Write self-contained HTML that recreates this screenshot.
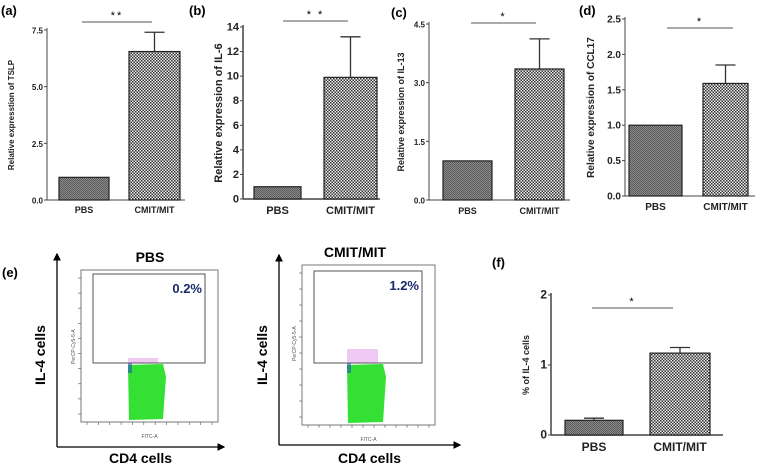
<!DOCTYPE html>
<html><head><meta charset="utf-8"><style>
body{margin:0;background:#fff}
svg{display:block;font-family:"Liberation Sans",sans-serif}
</style></head><body>
<svg id="fig" width="760" height="467" viewBox="0 0 760 467">
<defs>
<pattern id="fine" width="2" height="2" patternUnits="userSpaceOnUse"><rect width="2" height="2" fill="#8a8a8a"/><rect width="1" height="1" fill="#5a5a5a"/><rect x="1" y="1" width="1" height="1" fill="#5a5a5a"/></pattern>
<pattern id="coarse" width="3" height="3" patternUnits="userSpaceOnUse"><rect width="3" height="3" fill="#eee"/><rect width="1.5" height="1.5" fill="#333"/><rect x="1.5" y="1.5" width="1.5" height="1.5" fill="#333"/></pattern>
<marker id="arr" markerWidth="6" markerHeight="6" refX="5" refY="3" orient="auto"><path d="M0,0 L6,3 L0,6 z" fill="#000"/></marker>
</defs>
<g id="panels"></g>
</svg>
<script>
const categories=["PBS","CMIT/MIT"];
const tslpValues=[1.0,6.55];const tslpErr=[0,7.4];const tslpTicks=["0.0","2.5","5.0","7.5"];
const il6Values=[1.0,9.9];const il6Err=[0,13.2];const il6Ticks=["0","2","4","6","8","10","12","14"];
const il13Values=[1.0,3.35];const il13Err=[0,4.12];const il13Ticks=["0.0","1.5","3.0","4.5"];
const ccl17Values=[1.0,1.59];const ccl17Err=[0,1.85];const ccl17Ticks=["0.0","0.5","1.0","1.5","2.0","2.5"];
const il4Values=[0.21,1.17];const il4Err=[0.24,1.25];const il4Ticks=["0","1","2"];
const flowPercents=["0.2%","1.2%"];

const NS="http://www.w3.org/2000/svg";
const root=document.getElementById('panels');
function mk(tag,attrs,parent,txt){const e=document.createElementNS(NS,tag);for(const k in attrs)e.setAttribute(k,attrs[k]);if(txt!==undefined)e.textContent=txt;(parent||root).appendChild(e);return e;}

function panel(cfg){
  const g=mk('g',{});
  
  
  const ticks=cfg.ticks, tmin=parseFloat(ticks[0]), tmax=parseFloat(ticks[ticks.length-1]);
  const y=v=>cfg.y0-(v-tmin)/(tmax-tmin)*(cfg.y0-cfg.yTop);
  const lbl=mk('text',{x:cfg.lx,y:cfg.ly,'font-size':13,'font-weight':'bold'},g,cfg.letter);
  
  const ax=mk('line',{x1:cfg.ax,y1:cfg.yTop-2,x2:cfg.ax,y2:cfg.y0,stroke:'#444','stroke-width':cfg.bold?1.5:1},g);
  
  const xa=mk('line',{x1:cfg.ax,y1:cfg.y0,x2:cfg.xEnd,y2:cfg.y0,stroke:'#444','stroke-width':cfg.bold?1.5:1},g);
  
  ticks.forEach(t=>{const ty=y(parseFloat(t));
    mk('line',{x1:cfg.ax-3,y1:ty,x2:cfg.ax,y2:ty,stroke:'#444'},g);
    const tl=mk('text',{x:cfg.ax-4,y:ty+3.5,'font-size':cfg.tfs,'font-weight':'bold','text-anchor':'end',fill:'#222'},g,t);
    
  });
  const yt=mk('text',{x:cfg.ylx,y:(cfg.y0+cfg.yTop)/2,'font-size':cfg.yfs,'font-weight':'bold','text-anchor':'middle',fill:'#222',transform:`rotate(-90 ${cfg.ylx} ${(cfg.y0+cfg.yTop)/2})`},g,cfg.ylabel);
  
  cfg.values.forEach((v,i)=>{
    const [x1,x2]=cfg.bars[i];const cx=(x1+x2)/2;
    if(cfg.err[i]>v){
      const e=mk('path',{d:`M${cx},${y(v)} V${y(cfg.err[i])} M${cx-10},${y(cfg.err[i])} H${cx+10}`,stroke:'#333','stroke-width':1.3,fill:'none'},g);
      
    }
    const b=mk('rect',{x:x1,y:y(v),width:x2-x1,height:cfg.y0-y(v),fill:i?'url(#coarse)':'url(#fine)',stroke:'#222','stroke-width':1.2},g);
    
    const c=mk('text',{x:cx,y:cfg.y0+cfg.cdy,'font-size':cfg.cfs,'font-weight':'bold','text-anchor':'middle',fill:'#222'},g,categories[i]);
    
  });
  const s=mk('line',{x1:cfg.sig[0],y1:cfg.sig[2],x2:cfg.sig[1],y2:cfg.sig[2],stroke:'#555'},g);
  
  const st=mk('text',{x:(cfg.sig[0]+cfg.sig[1])/2,y:cfg.sig[2]-3,'font-size':11,'text-anchor':'middle','letter-spacing':'2'},g,cfg.stars);
  
}

panel({name:'panel-a-tslp',letter:'(a)',lx:1,ly:15,ax:47,y0:200,yTop:30,xEnd:185,ticks:tslpTicks,values:tslpValues,err:tslpErr,bars:[[59,109],[129,180]],tfs:8,yfs:8,ylx:14,ylabel:'Relative expresstion of TSLP',cdy:13,cfs:9,sig:[82,152,22],stars:'**'});
panel({name:'panel-b-il6',letter:'(b)',lx:189,ly:15,ax:243,y0:199,yTop:27,xEnd:380,ticks:il6Ticks,values:il6Values,err:il6Err,bars:[[254,301],[324,377]],tfs:11,yfs:11,ylx:222,ylabel:'Relative expression of IL-6',cdy:15,cfs:11,sig:[283,348,21],stars:'* *',bold:true});
panel({name:'panel-c-il13',letter:'(c)',lx:391,ly:17,ax:429,y0:200,yTop:24,xEnd:570,ticks:il13Ticks,values:il13Values,err:il13Err,bars:[[443,492],[515,564]],tfs:8,yfs:9,ylx:404,ylabel:'Relative expression of  IL-13',cdy:14,cfs:9,sig:[471,536,23],stars:'*'});
panel({name:'panel-d-ccl17',letter:'(d)',lx:579,ly:15,ax:625,y0:196,yTop:19,xEnd:755,ticks:ccl17Ticks,values:ccl17Values,err:ccl17Err,bars:[[629,682],[703,748]],tfs:10,yfs:10,ylx:594,ylabel:'Relative expression of CCL17',cdy:14,cfs:10,sig:[667,733,28],stars:'*'});
panel({name:'panel-f-il4-percent',letter:'(f)',lx:492,ly:267,ax:551,y0:435,yTop:295,xEnd:723,ticks:il4Ticks,values:il4Values,err:il4Err,bars:[[565,623],[650,710]],tfs:12,yfs:9,ylx:529,ylabel:'% of IL-4 cells',cdy:16,cfs:12,sig:[592,673,308],stars:'*',bold:true});

mk('text',{x:2,y:277,'font-size':13,'font-weight':'bold'},root,'(e)');
function flow(o,idx){
  const g=mk('g',{});
  
  
  mk('line',{x1:o.ax,y1:o.by,x2:o.ax,y2:o.top,stroke:'#000','stroke-width':1.3,'marker-end':'url(#arr)'},g);
  mk('line',{x1:o.ax,y1:o.by,x2:o.right,y2:o.by,stroke:'#000','stroke-width':1.3,'marker-end':'url(#arr)'},g);
  mk('rect',{x:o.bx,y:o.byy,width:o.bw,height:o.bh,fill:'none',stroke:'#777'},g);
  const gb=o.gy+o.gh;
  mk('path',{d:`M${o.cx1},${gb+2} L${o.cx2-3},${gb+1} L${o.cx2},${gb+14} L${o.cx2-3},${o.byy+o.bh-3} L${o.cx1+1},${o.byy+o.bh-2} Z`,fill:'#33e033'},g);
  mk('rect',{x:o.cx1,y:gb-o.pink,width:o.cx2-o.cx1-8,height:o.pink,fill:'#dd88e8',opacity:0.45},g);
  mk('rect',{x:o.cx1,y:gb,width:4,height:10,fill:'#2255bb',opacity:0.6},g);
  mk('rect',{x:o.gx,y:o.gy,width:o.gw,height:o.gh,fill:'none',stroke:'#555','stroke-width':1},g);
  const t=mk('text',{x:o.tx,y:o.ty,'font-size':14,'font-weight':'bold','text-anchor':'middle'},g,categories[idx]);
  
  const p=mk('text',{x:o.gx+o.gw-3,y:o.gy+19,'font-size':13,'font-weight':'bold','text-anchor':'end',fill:'#1a2a6a'},g,flowPercents[idx]);
  
  const yl=mk('text',{x:o.ax-12,y:355,'font-size':14,'font-weight':'bold','text-anchor':'middle',transform:`rotate(-90 ${o.ax-12} 355)`},g,'IL-4 cells');
  
  const xl=mk('text',{x:(o.ax+o.right)/2,y:463,'font-size':14,'font-weight':'bold','text-anchor':'middle'},g,'CD4 cells');
  
  mk('text',{x:(o.bx+o.bx+o.bw)/2,y:o.byy+o.bh+16,'font-size':5,'text-anchor':'middle',fill:'#555'},g,'FITC-A');
  mk('text',{x:o.bx-6,y:o.gy+90,'font-size':5,fill:'#555',transform:`rotate(-90 ${o.bx-6} ${o.gy+90})`},g,'PerCP-Cy5-5-A');
  for(let k=0;k<12;k++){mk('line',{x1:o.bx+6+k*((o.bw-12)/11),y1:o.byy+o.bh,x2:o.bx+6+k*((o.bw-12)/11),y2:o.byy+o.bh+3,stroke:'#555','stroke-width':0.6},g);}
  for(let k=0;k<10;k++){mk('line',{x1:o.bx-3,y1:o.byy+8+k*((o.bh-16)/9),x2:o.bx,y2:o.byy+8+k*((o.bh-16)/9),stroke:'#555','stroke-width':0.6},g);}
}
flow({ax:57,by:447,top:254,right:224,bx:81,byy:270,bw:137,bh:152,gx:93,gy:274,gw:112,gh:89,cx1:128,cx2:166,tx:150,ty:262,pink:5},0);
flow({ax:279,by:445,top:255,right:460,bx:302,byy:265,bw:133,bh:160,gx:314,gy:271,gw:108,gh:92,cx1:347,cx2:386,tx:355,ty:257,pink:14},1);
</script>
</body></html>
